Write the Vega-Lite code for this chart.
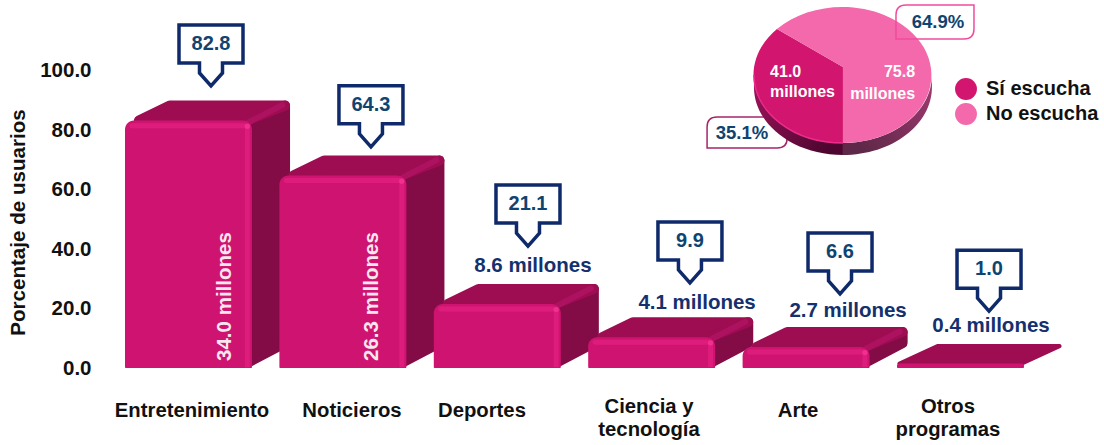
{
"$schema":"https://vega.github.io/schema/vega-lite/v6.json",
"width":1004,"height":445,"autosize":{"type":"none"},"padding":{"left":100,"right":0,"top":0,"bottom":0},
"background":"white",
"config":{"view":{"stroke":null},"font":"Liberation Sans","text":{"font":"Liberation Sans"}},
"datasets":{
"pie":[{"segmento":"Sí escucha","porcentaje":35.1,"millones":41.0},{"segmento":"No escucha","porcentaje":64.9,"millones":75.8}]
},
"data":{"values":[
{"categoria":"Entretenimiento","porcentaje":82.8,"millones":34.0},
{"categoria":"Noticieros","porcentaje":64.3,"millones":26.3},
{"categoria":"Deportes","porcentaje":21.1,"millones":8.6},
{"categoria":"Ciencia y tecnología","porcentaje":9.9,"millones":4.1},
{"categoria":"Arte","porcentaje":6.6,"millones":2.7},
{"categoria":"Otros programas","porcentaje":1.0,"millones":0.4}
]},
"transform":[
{"calculate":"indexof(['Entretenimiento','Noticieros','Deportes','Ciencia y tecnología','Arte','Otros programas'],datum.categoria)","as":"xl"},
{"calculate":"datum.xl+0.8225","as":"xr"},
{"calculate":"datum.porcentaje+0.5","as":"t"}
],
"layer":[
{"transform":[{"filter":"datum.porcentaje>2"},{"calculate":"[0,1]","as":"k"},{"flatten":["k"]},
{"calculate":"datum.xr-0.032+datum.k*0.246","as":"px"},{"calculate":"datum.t+datum.k*5.05","as":"pa"},{"calculate":"1.68+datum.k*6.73","as":"pb"}],
"mark":{"type":"area","orient":"vertical","color":"#840C46","stroke":"#840C46","strokeWidth":10,"strokeJoin":"round"},
"encoding":{
"x":{"field":"px","type":"quantitative","axis":null,"scale":{"domain":[-0.1619,6.3407],"nice":false,"zero":false}},
"y":{"field":"pa","type":"quantitative","stack":null,"scale":{"domain":[-25.9,123.9],"nice":false,"zero":false},
"axis":{"values":[0,20,40,60,80,100],"format":".1f","title":"Porcentaje de usuarios","grid":false,"domain":false,"ticks":false,"labelPadding":9,"labelFont":"Liberation Sans","labelFontWeight":"bold","labelFontSize":20.5,"labelColor":"#111111","titleFont":"Liberation Sans","titleFontWeight":"bold","titleFontSize":20.6,"titleColor":"#111111","titleX":-72,"titleY":222}},
"y2":{"field":"pb"},"detail":{"field":"categoria"}}},
{"transform":[{"filter":"datum.porcentaje>2"},{"calculate":"[0,1]","as":"k"},{"flatten":["k"]},
{"calculate":"datum.xl+0.09+datum.k*0.2","as":"pa"},{"calculate":"datum.xr-0.032+datum.k*0.246","as":"pb"},{"calculate":"datum.t+datum.k*5.05","as":"py"}],
"mark":{"type":"area","orient":"horizontal","color":"#9E0C52","stroke":"#9E0C52","strokeWidth":10,"strokeJoin":"round"},
"encoding":{
"y":{"field":"py","type":"quantitative"},
"x":{"field":"pa","type":"quantitative","axis":null},"x2":{"field":"pb"},"detail":{"field":"categoria"}}},
{"transform":[{"filter":"datum.porcentaje<=2"},{"calculate":"[0,1]","as":"k"},{"flatten":["k"]},
{"calculate":"datum.xl+0.016+datum.k*0.246","as":"pa"},{"calculate":"datum.xr-0.016+datum.k*0.246","as":"pb"},{"calculate":"datum.t+datum.k*5.89","as":"py"}],
"mark":{"type":"area","orient":"horizontal","color":"#9E0C52","stroke":"#9E0C52","strokeWidth":4,"strokeJoin":"round"},
"encoding":{
"y":{"field":"py","type":"quantitative"},
"x":{"field":"pa","type":"quantitative","axis":null},"x2":{"field":"pb"},"detail":{"field":"categoria"}}},
{"transform":[{"filter":"datum.porcentaje>2"},{"calculate":"datum.xr-0.02","as":"a"},{"calculate":"datum.xr+0.195","as":"b"},{"calculate":"datum.t-0.5","as":"c"},{"calculate":"datum.t+5.2","as":"d"}],
"mark":{"type":"rule","color":"#AC1260","strokeWidth":6,"strokeCap":"round"},
"encoding":{"x":{"field":"a","type":"quantitative","axis":null},"x2":{"field":"b"},"y":{"field":"c","type":"quantitative"},"y2":{"field":"d"}}},
{"transform":[{"calculate":"0","as":"z"}],
"mark":{"type":"rect","color":"#CE1470","cornerRadiusTopLeft":9,"cornerRadiusTopRight":9,"cornerRadiusBottomLeft":1,"cornerRadiusBottomRight":1},
"encoding":{"x":{"field":"xl","type":"quantitative","axis":null},"x2":{"field":"xr"},"y":{"field":"t","type":"quantitative"},"y2":{"field":"z"}}},
{"transform":[{"filter":"datum.porcentaje>2"},{"calculate":"datum.xl+0.045","as":"a"},{"calculate":"datum.xr-0.045","as":"b"},{"calculate":"datum.t-1.7","as":"c"}],
"mark":{"type":"rule","color":"#DE1C7C","strokeWidth":5,"strokeCap":"round"},
"encoding":{"x":{"field":"a","type":"quantitative","axis":null},"x2":{"field":"b"},"y":{"field":"c","type":"quantitative"}}},
{"transform":[{"filter":"datum.porcentaje>2"},{"calculate":"datum.xr-0.03","as":"a"},{"calculate":"datum.t-1.7","as":"c"},{"calculate":"0.3","as":"d"}],
"mark":{"type":"rule","color":"#DE1C7C","strokeWidth":5},
"encoding":{"x":{"field":"a","type":"quantitative","axis":null},"y":{"field":"c","type":"quantitative"},"y2":{"field":"d"}}},
{"transform":[{"filter":"datum.porcentaje>2"},{"calculate":"datum.xr-0.03","as":"a"},{"calculate":"datum.t-1.9","as":"c"}],
"mark":{"type":"circle","color":"#F0308F","size":28,"opacity":1},
"encoding":{"x":{"field":"a","type":"quantitative","axis":null},"y":{"field":"c","type":"quantitative"}}},
{"transform":[{"calculate":"[0.557,1.593,2.61,3.659,4.631,5.596][datum.xl]","as":"cx"},{"calculate":"[109.1,88.6,55.2,42.8,39.1,33.3][datum.xl]","as":"cy"}],
"mark":{"type":"point","filled":true,"fill":"white","stroke":"#0F2A6B","strokeWidth":3.5,"strokeJoin":"miter","opacity":1,"size":4,"shape":"M-32,-19 H32 V19 H11.5 V29 L0,42 L-11.5,29 V19 H-32 Z"},
"encoding":{"x":{"field":"cx","type":"quantitative","axis":null},"y":{"field":"cy","type":"quantitative"}}},
{"transform":[{"calculate":"[0.557,1.593,2.61,3.659,4.631,5.596][datum.xl]","as":"cx"},{"calculate":"[109.1,88.6,55.2,42.8,39.1,33.3][datum.xl]","as":"cy"}],
"mark":{"type":"text","fontWeight":"bold","fontSize":20,"color":"#0F4470","baseline":"middle"},
"encoding":{"x":{"field":"cx","type":"quantitative","axis":null},"y":{"field":"cy","type":"quantitative"},"text":{"field":"porcentaje","type":"quantitative","format":".1f"}}},
{"transform":[{"filter":"datum.porcentaje>50"},{"calculate":"[0.648,1.6][datum.xl]","as":"cx"},{"calculate":"2.4","as":"cy"},{"calculate":"format(datum.millones,'.1f')+' millones'","as":"lab"}],
"mark":{"type":"text","fontWeight":"bold","fontSize":20.5,"color":"#FBE6F0","angle":270,"align":"left","baseline":"middle"},
"encoding":{"x":{"field":"cx","type":"quantitative","axis":null},"y":{"field":"cy","type":"quantitative"},"text":{"field":"lab"}}},
{"transform":[{"filter":"datum.porcentaje<50"},{"calculate":"[0,0,2.642,3.705,4.683,5.609][datum.xl]","as":"cx"},{"calculate":"[0,0,34.3,21.9,19.2,14.1][datum.xl]","as":"cy"},{"calculate":"format(datum.millones,'.1f')+' millones'","as":"lab"}],
"mark":{"type":"text","fontWeight":"bold","fontSize":20.5,"color":"#14306E","baseline":"middle"},
"encoding":{"x":{"field":"cx","type":"quantitative","axis":null},"y":{"field":"cy","type":"quantitative"},"text":{"field":"lab"}}},
{"transform":[{"calculate":"[0.434,1.47,2.312,3.394,4.359,5.33][datum.xl]","as":"cx"},{"calculate":"[-14.5,-14.5,-14.5,-13.1,-14.5,-13.1][datum.xl]","as":"cy"},{"calculate":"replace(replace(datum.categoria,'Ciencia y ','Ciencia y\\n'),'Otros ','Otros\\n')","as":"lab"}],
"mark":{"type":"text","fontWeight":"bold","fontSize":20.3,"color":"#111111","baseline":"middle","lineBreak":"\n","lineHeight":23},
"encoding":{"x":{"field":"cx","type":"quantitative","axis":null},"y":{"field":"cy","type":"quantitative"},"text":{"field":"lab"}}},
{"data":{"name":"pie"},"transform":[{"filter":"datum.porcentaje<50"}],
"mark":{"type":"point","filled":true,"fill":"white","stroke":"#A62468","strokeWidth":1.5,"opacity":1,"size":4,"shape":"M-30,-15.5 H40 V6 Q40,15.5 30,15.5 H-40 V-5.5 Q-40,-15.5 -30,-15.5 Z"},
"encoding":{"x":{"datum":4.029,"type":"quantitative","axis":null},"y":{"datum":79.3,"type":"quantitative"}}},
{"data":{"name":"pie"},"transform":[{"filter":"datum.porcentaje<50"}],
"mark":{"type":"point","filled":true,"fill":{"x1":0,"y1":0,"x2":1,"y2":0.6,"gradient":"linear","stops":[{"offset":0,"color":"#A0145C"},{"offset":1,"color":"#4E0630"}]},"opacity":1,"size":4,"shape":"M-89,0 A89,68 0 0 0 0,68 L0,80 A89,68 0 0 1 -89,12 Z"},
"encoding":{"x":{"datum":4.65,"type":"quantitative","axis":null},"y":{"datum":98.65,"type":"quantitative"}}},
{"data":{"name":"pie"},"transform":[{"filter":"datum.porcentaje>50"}],
"mark":{"type":"point","filled":true,"fill":{"x1":0,"y1":0.6,"x2":1,"y2":0,"gradient":"linear","stops":[{"offset":0,"color":"#5E2848"},{"offset":1,"color":"#A03A70"}]},"opacity":1,"size":4,"shape":"M0,68 A89,68 0 0 0 89,0 L89,12 A89,68 0 0 1 0,80 Z"},
"encoding":{"x":{"datum":4.65,"type":"quantitative","axis":null},"y":{"datum":98.65,"type":"quantitative"}}},
{"data":{"name":"pie"},"transform":[{"filter":"datum.porcentaje<50"}],
"mark":{"type":"point","filled":true,"opacity":1,"size":4,"shape":"M0,-8 L-66,-46 A89,68 0 0 0 0,68 Z"},
"encoding":{"x":{"datum":4.65,"type":"quantitative","axis":null},"y":{"datum":98.65,"type":"quantitative"},
"color":{"field":"segmento","type":"nominal","scale":{"domain":["Sí escucha","No escucha"],"range":["#D2156F","#F468AC"]},
"legend":{"title":null,"orient":"none","legendX":855,"legendY":78,"padding":0,"symbolType":"circle","symbolSize":480,"symbolStrokeWidth":0,"labelFont":"Liberation Sans","labelFontWeight":"bold","labelFontSize":20,"labelColor":"#111111","labelOffset":9,"rowPadding":3}}}},
{"data":{"name":"pie"},"transform":[{"filter":"datum.porcentaje>50"}],
"mark":{"type":"point","filled":true,"opacity":1,"size":4,"shape":"M0,-8 L0,68 A89,68 0 1 0 -66,-46 Z"},
"encoding":{"x":{"datum":4.65,"type":"quantitative","axis":null},"y":{"datum":98.65,"type":"quantitative"},
"color":{"field":"segmento","type":"nominal"}}},
{"data":{"name":"pie"},"transform":[{"filter":"datum.porcentaje<50"}],
"mark":{"type":"point","filled":false,"stroke":"#EC2C8C","strokeWidth":1.5,"opacity":1,"size":4,"shape":"M-89,0 A89,68 0 0 0 0,68"},
"encoding":{"x":{"datum":4.65,"type":"quantitative","axis":null},"y":{"datum":98.65,"type":"quantitative"}}},
{"data":{"name":"pie"},"transform":[{"filter":"datum.porcentaje<50"},{"calculate":"format(datum.millones,'.1f')+'\\nmillones'","as":"lab"}],
"mark":{"type":"text","fontWeight":"bold","fontSize":16,"color":"white","align":"left","baseline":"middle","lineBreak":"\n","lineHeight":20},
"encoding":{"x":{"datum":4.178,"type":"quantitative","axis":null},"y":{"datum":99.7,"type":"quantitative"},"text":{"field":"lab"}}},
{"data":{"name":"pie"},"transform":[{"filter":"datum.porcentaje>50"},{"calculate":"format(datum.millones,'.1f')+'\\nmillones'","as":"lab"}],
"mark":{"type":"text","fontWeight":"bold","fontSize":16,"color":"white","align":"right","baseline":"middle","lineBreak":"\n","lineHeight":22},
"encoding":{"x":{"datum":5.117,"type":"quantitative","axis":null},"y":{"datum":99.7,"type":"quantitative"},"text":{"field":"lab"}}},
{"data":{"name":"pie"},"transform":[{"filter":"datum.porcentaje>50"}],
"mark":{"type":"point","filled":false,"stroke":"#F04C9C","strokeWidth":1.5,"opacity":1,"size":4,"shape":"M-29,-17 H39 V7 Q39,17 29,17 H-39 V-7 Q-39,-17 -29,-17 Z"},
"encoding":{"x":{"datum":5.246,"type":"quantitative","axis":null},"y":{"datum":116.5,"type":"quantitative"}}},
{"data":{"name":"pie"},"transform":[{"calculate":"datum.porcentaje<50?3.996:5.265","as":"cx"},{"calculate":"datum.porcentaje<50?79.1:116.5","as":"cy"},{"calculate":"format(datum.porcentaje,'.1f')+'%'","as":"lab"}],
"mark":{"type":"text","fontWeight":"bold","fontSize":18.5,"color":"#0F4470","baseline":"middle"},
"encoding":{"x":{"field":"cx","type":"quantitative","axis":null},"y":{"field":"cy","type":"quantitative"},"text":{"field":"lab"}}}
]
}
